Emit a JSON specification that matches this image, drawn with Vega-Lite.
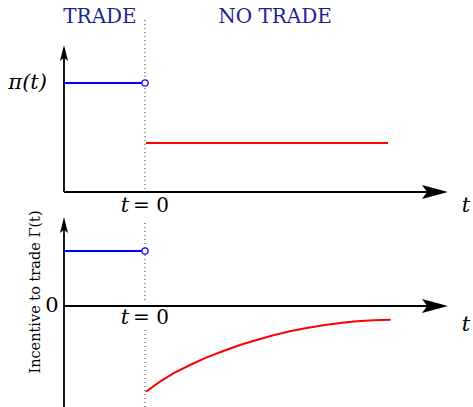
{
  "$schema": "https://vega.github.io/schema/vega-lite/v6.json",
  "width": 473,
  "height": 407,
  "autosize": {"type": "none"},
  "padding": 0,
  "background": "white",
  "config": {"view": {"stroke": null}},
  "encoding": {
    "x": {"field": "t", "type": "quantitative", "scale": {"domain": [-1.7901, 4.0494], "nice": false, "zero": false}, "axis": null},
    "y": {"field": "v", "type": "quantitative", "scale": {"domain": [0, 407], "nice": false, "zero": false}, "axis": null}
  },
  "layer": [
    {
      "data": {"values": [
        {"seg": 1, "t": 0, "v": 387}, {"seg": 1, "t": 0, "v": 215},
        {"seg": 2, "t": 0, "v": 184}, {"seg": 2, "t": 0, "v": 105},
        {"seg": 3, "t": 0, "v": 77}, {"seg": 3, "t": 0, "v": 0}
      ]},
      "mark": {"type": "line", "color": "#333333", "strokeWidth": 1, "strokeDash": [1, 3]},
      "encoding": {"detail": {"field": "seg"}}
    },
    {
      "data": {"values": [
        {"seg": "ty", "t": -1, "v": 215}, {"seg": "ty", "t": -1, "v": 352},
        {"seg": "tx", "t": -1, "v": 215}, {"seg": "tx", "t": 3.58, "v": 215},
        {"seg": "by", "t": -1, "v": 0}, {"seg": "by", "t": -1, "v": 180},
        {"seg": "bx", "t": -1, "v": 101}, {"seg": "bx", "t": 3.58, "v": 101}
      ]},
      "mark": {"type": "line", "color": "black", "strokeWidth": 1.8, "strokeCap": "butt"},
      "encoding": {"detail": {"field": "seg"}}
    },
    {
      "data": {"values": [{"t": 3.58, "v": 215}, {"t": 3.58, "v": 101}]},
      "mark": {"type": "point", "shape": "M1,0 L-1,-0.54 L-0.6,0 L-1,0.54 Z", "size": 676, "filled": true, "color": "black", "opacity": 1, "strokeWidth": 0}
    },
    {
      "data": {"values": [{"t": -1, "v": 354}, {"t": -1, "v": 182}]},
      "mark": {"type": "point", "shape": "M0,-1 L-0.5,1 L0,0.6 L0.5,1 Z", "size": 256, "filled": true, "color": "black", "opacity": 1, "strokeWidth": 0}
    },
    {
      "data": {"values": [
        {"seg": 1, "t": -1, "v": 324}, {"seg": 1, "t": 0, "v": 324},
        {"seg": 2, "t": -1, "v": 156}, {"seg": 2, "t": 0, "v": 156}
      ]},
      "mark": {"type": "line", "color": "#0000ff", "strokeWidth": 2},
      "encoding": {"detail": {"field": "seg"}}
    },
    {
      "data": {"values": [
        {"seg": 1, "t": 0.012, "v": 264}, {"seg": 1, "t": 3.0, "v": 264},
        {"seg": 2, "t": 0.012, "v": 15.3}, {"seg": 2, "t": 0.185, "v": 25.3},
        {"seg": 2, "t": 0.349, "v": 33.7}, {"seg": 2, "t": 0.556, "v": 42},
        {"seg": 2, "t": 0.762, "v": 49.7}, {"seg": 2, "t": 0.967, "v": 56},
        {"seg": 2, "t": 1.173, "v": 62}, {"seg": 2, "t": 1.379, "v": 67},
        {"seg": 2, "t": 1.584, "v": 71.7}, {"seg": 2, "t": 1.79, "v": 75.7},
        {"seg": 2, "t": 1.996, "v": 79}, {"seg": 2, "t": 2.201, "v": 81.7},
        {"seg": 2, "t": 2.407, "v": 84}, {"seg": 2, "t": 2.614, "v": 85.7},
        {"seg": 2, "t": 2.819, "v": 86.7}, {"seg": 2, "t": 3.033, "v": 87.3}
      ]},
      "mark": {"type": "line", "color": "#ff0000", "strokeWidth": 2},
      "encoding": {"detail": {"field": "seg"}}
    },
    {
      "data": {"values": [{"t": 0, "v": 324}, {"t": 0, "v": 156}]},
      "mark": {"type": "point", "shape": "circle", "size": 40, "filled": false, "fill": "white", "fillOpacity": 1, "stroke": "#0000ff", "strokeWidth": 1.3, "opacity": 1}
    },
    {
      "data": {"values": [
        {"t": -0.556, "v": 390, "label": "TRADE"},
        {"t": 1.605, "v": 390, "label": "NO TRADE"}
      ]},
      "mark": {"type": "text", "font": "DejaVu Serif", "fontSize": 20, "color": "#1f1f8f", "align": "center", "baseline": "middle"},
      "encoding": {"text": {"field": "label"}}
    },
    {
      "data": {"values": [
        {"t": -1.21, "v": 324, "label": "π(t)"}
      ]},
      "mark": {"type": "text", "font": "DejaVu Serif", "fontSize": 21, "fontStyle": "italic", "color": "black", "align": "right", "baseline": "middle"},
      "encoding": {"text": {"field": "label"}}
    },
    {
      "data": {"values": [
        {"t": -0.247, "v": 201, "label": "t"},
        {"t": -0.247, "v": 89, "label": "t"},
        {"t": 3.963, "v": 201, "label": "t"},
        {"t": 3.963, "v": 82, "label": "t"}
      ]},
      "mark": {"type": "text", "font": "DejaVu Serif", "fontSize": 21, "fontStyle": "italic", "color": "black", "align": "center", "baseline": "middle"},
      "encoding": {"text": {"field": "label"}}
    },
    {
      "data": {"values": [
        {"t": -0.148, "v": 201, "label": "= 0"},
        {"t": -0.148, "v": 89, "label": "= 0"}
      ]},
      "mark": {"type": "text", "font": "DejaVu Serif", "fontSize": 20, "color": "black", "align": "left", "baseline": "middle"},
      "encoding": {"text": {"field": "label"}}
    },
    {
      "data": {"values": [{"t": -1.148, "v": 101, "label": "0"}]},
      "mark": {"type": "text", "font": "DejaVu Serif", "fontSize": 21, "color": "black", "align": "center", "baseline": "middle"},
      "encoding": {"text": {"field": "label"}}
    },
    {
      "data": {"values": [{"t": -1.346, "v": 115, "label": "Incentive to trade Γ(t)"}]},
      "mark": {"type": "text", "font": "DejaVu Serif", "fontSize": 14.5, "color": "black", "align": "center", "baseline": "middle", "angle": 270},
      "encoding": {"text": {"field": "label"}}
    }
  ]
}
